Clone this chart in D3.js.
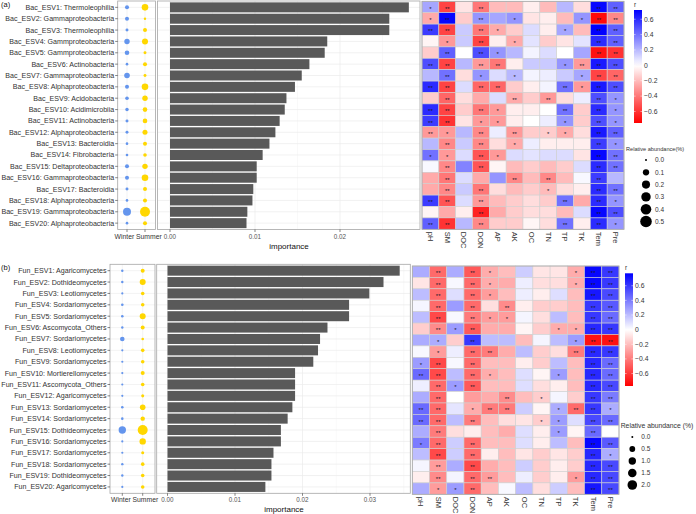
<!DOCTYPE html>
<html>
<head>
<meta charset="utf-8">
<script src="https://cdn.jsdelivr.net/npm/d3@7"></script>
<style>
  body { margin: 0; background: #fff; }
  text { font-family: "Liberation Sans", Arial, Helvetica, sans-serif; }
</style>
</head>
<body>
<svg id="chart" width="696" height="514"></svg>
<script>
// environmental factors (heatmap columns)
const factors = ["pH", "SM", "DOC", "DON", "AP", "AK", "OC", "TN", "TP", "TK", "Tem", "Pre"];
const seasons = ["Winter", "Summer"];

// ---- panel (a): bacteria
const bacLabels = ["Bac_ESV1: Thermoleophilia", "Bac_ESV2: Gammaproteobacteria", "Bac_ESV3: Thermoleophilia",
  "Bac_ESV4: Gammproteobacteria", "Bac_ESV5: Gammproteobacteria", "Bac_ESV6: Actinobacteria",
  "Bac_ESV7: Gammaproteobacteria", "Bac_ESV8: Alphaproteobacteria", "Bac_ESV9: Acidobacteria",
  "Bac_ESV10: Acidimicrobiia", "Bac_ESV11: Actinobacteria", "Bac_ESV12: Alphaproteobacteria",
  "Bac_ESV13: Bacteroidia", "Bac_ESV14: Fibrobacteria", "Bac_ESV15: Deltaproteobacteria",
  "Bac_ESV16: Gammaproteobacteria", "Bac_ESV17: Bacteroidia", "Bac_ESV18: Alphaproteobacteria",
  "Bac_ESV19: Gammaproteobacteria", "Bac_ESV20: Alphaproteobacteria"];
const bacImportance = [0.0281, 0.0258, 0.0258, 0.0185, 0.0182, 0.0164, 0.0155, 0.0147, 0.0137, 0.0135,
  0.0129, 0.0124, 0.0117, 0.0109, 0.0102, 0.0102, 0.0098, 0.0097, 0.0091, 0.0090];
const bacWinter = [0.022, 0.022, 0.005, 0.063, 0.037, 0.002, 0.070, 0.022, 0.014, 0.011,
  0.005, 0.005, 0.002, 0.002, 0.022, 0.022, 0.005, 0.002, 0.195, 0.002];
const bacSummer = [0.115, 0.001, 0.022, 0.087, 0.005, 0.022, 0.005, 0.115, 0.063, 0.037,
  0.037, 0.049, 0.022, 0.014, 0.063, 0.115, 0.022, 0.022, 0.347, 0.022];
const bacR = [
  [0.25, -0.55, -0.08, -0.4, -0.2, -0.2, -0.05, -0.2, 0.2, -0.1, 0.7, 0.45],
  [-0.25, 0.7, -0.15, 0.3, 0.25, 0.3, -0.08, -0.05, -0.2, 0.3, -0.72, -0.35],
  [0.55, -0.55, 0.15, -0.4, -0.25, -0.15, 0.1, -0.05, 0.25, -0.2, 0.72, 0.45],
  [-0.03, -0.3, 0.15, -0.55, -0.05, -0.25, 0.08, -0.15, -0.08, 0.08, 0.6, 0.45],
  [-0.15, 0.45, 0, 0.5, 0.3, 0.2, 0.03, 0.1, 0, 0.25, -0.7, -0.6],
  [0.5, -0.55, 0.2, -0.3, -0.4, -0.05, 0.15, 0.15, 0.3, -0.3, 0.65, 0.5],
  [0.2, 0.4, -0.1, 0.3, 0.1, 0.2, 0.03, 0.05, 0.15, 0.25, -0.55, -0.45],
  [0.6, -0.55, 0.1, -0.45, -0.45, -0.15, -0.05, 0.03, 0.4, -0.3, 0.65, 0.5],
  [-0.15, -0.45, -0.1, -0.25, 0.1, -0.25, -0.15, -0.3, -0.1, 0.05, 0.5, 0.3],
  [0.6, -0.55, -0.15, -0.4, -0.3, -0.05, -0.05, 0, 0.4, -0.15, 0.6, 0.3],
  [0.55, -0.6, -0.08, -0.3, -0.3, -0.05, 0, 0.05, 0.3, -0.15, 0.5, 0.3],
  [-0.3, -0.3, 0.2, -0.35, 0.05, -0.3, -0.15, -0.15, -0.25, -0.1, 0.65, 0.45],
  [0.2, -0.35, 0.15, -0.35, -0.1, -0.25, 0.05, -0.05, -0.05, -0.05, 0.55, 0.3],
  [0.4, -0.3, 0.1, -0.5, -0.3, 0.1, 0.08, 0.1, 0.1, -0.08, 0.7, 0.4],
  [0.02, -0.35, 0.35, -0.5, -0.03, -0.2, -0.15, -0.2, -0.15, 0.1, 0.6, 0.4],
  [-0.25, -0.4, 0.1, -0.25, 0.3, -0.35, -0.2, -0.35, -0.2, 0.02, 0.55, 0.2],
  [-0.25, -0.35, 0.15, -0.4, -0.1, -0.2, -0.15, -0.2, -0.1, -0.05, 0.6, 0.4],
  [0.55, -0.5, 0.1, -0.3, -0.2, -0.15, -0.1, -0.15, 0.4, -0.25, 0.6, 0.3],
  [-0.03, -0.25, -0.05, -0.65, -0.25, -0.15, -0.1, -0.1, -0.2, 0.1, 0.7, 0.5],
  [0.45, -0.6, 0.2, -0.35, -0.15, -0.15, -0.03, -0.1, 0.4, -0.05, 0.6, 0.3]
];
// 0 = none, 1 = *, 2 = **
const bacSig = ["120200000022", "120201000122", "220210001022", "010201000022", "020210000022",
  "220220001222", "020101000122", "220220002122", "020002020021", "220210002021",
  "220110001021", "210202011022", "020201000021", "110210000022", "020200000022",
  "020002020020", "020200010022", "220200002021", "000200000022", "220200002021"];

// ---- panel (b): fungi
const funLabels = ["Fun_ESV1: Agaricomycetes", "Fun_ESV2: Dothideomycetes", "Fun_ESV3: Leotiomycetes",
  "Fun_ESV4: Sordariomycetes", "Fun_ESV5: Sordariomycetes", "Fun_ESV6: Ascomycota_Others",
  "Fun_ESV7: Sordariomycetes", "Fun_ESV8: Leotiomycetes", "Fun_ESV9: Sordariomycetes",
  "Fun_ESV10: Mortierellomycetes", "Fun_ESV11: Ascomycota_Others", "Fun_ESV12: Agaricomycetes",
  "Fun_ESV13: Sordariomycetes", "Fun_ESV14: Sordariomycetes", "Fun_ESV15: Dothideomycetes",
  "Fun_ESV16: Sordariomycetes", "Fun_ESV17: Sordariomycetes", "Fun_ESV18: Sordariomycetes",
  "Fun_ESV19: Dothideomycetes", "Fun_ESV20: Agaricomycetes"];
const funImportance = [0.0344, 0.0320, 0.0299, 0.0269, 0.0269, 0.0237, 0.0226, 0.0223, 0.0216, 0.0189,
  0.0189, 0.0189, 0.0185, 0.0178, 0.0168, 0.0168, 0.0157, 0.0154, 0.0154, 0.0145];
const funWinter = [0.006, 0.006, 0.001, 0.012, 0.012, 0.006, 0.234, 0.001, 0.001, 0.001,
  0.001, 0.001, 0.012, 0.012, 1.0, 0.001, 0.001, 0.006, 0.006, 0.001];
const funSummer = [0.138, 0.55, 0.088, 0.088, 0.55, 0.138, 0.012, 0.088, 0.088, 0.138,
  0.088, 0.035, 0.45, 0.2, 2.2, 0.67, 0.035, 0.088, 0.088, 0.088];
const funR = [
  [0.25, -0.45, 0.25, -0.5, -0.25, -0.2, 0.15, -0.08, -0.08, -0.25, 0.75, 0.6],
  [-0.08, -0.45, 0.02, -0.45, -0.25, -0.25, 0.05, -0.1, -0.1, -0.25, 0.75, 0.6],
  [0.2, -0.45, 0.1, -0.45, -0.3, -0.2, 0.05, -0.05, 0.1, -0.2, 0.7, 0.55],
  [0.03, -0.45, 0.3, -0.45, -0.1, -0.35, -0.05, -0.15, -0.15, -0.2, 0.6, 0.5],
  [0.2, -0.55, 0.02, -0.4, -0.3, -0.3, 0.03, -0.1, 0.2, -0.2, 0.6, 0.45],
  [-0.15, -0.35, 0.3, -0.5, -0.25, -0.25, -0.03, -0.15, -0.25, -0.25, 0.65, 0.6],
  [0.25, 0.25, -0.15, 0.6, 0.2, 0.2, -0.2, 0.03, 0.2, 0.3, -0.72, -0.72],
  [0.02, -0.3, 0.05, -0.45, -0.4, -0.25, 0.2, -0.15, -0.1, -0.4, 0.65, 0.6],
  [0.3, -0.55, 0.02, -0.45, -0.2, -0.2, -0.05, -0.15, 0.2, -0.2, 0.65, 0.45],
  [0.45, -0.55, 0.2, -0.45, -0.25, -0.2, 0.1, -0.03, 0.3, -0.2, 0.65, 0.45],
  [0.05, -0.45, 0.3, -0.5, -0.2, -0.2, 0.1, -0.1, -0.05, -0.2, 0.65, 0.55],
  [0.25, -0.45, 0, -0.3, -0.25, -0.35, -0.2, -0.15, 0.03, -0.15, 0.6, 0.4],
  [0.45, -0.45, 0.08, -0.25, -0.4, -0.4, 0.15, -0.03, 0.25, -0.45, 0.6, 0.25],
  [0.45, -0.45, 0.2, -0.4, -0.2, -0.1, -0.08, -0.15, 0.3, 0.1, 0.55, 0.45],
  [0.25, -0.4, -0.1, -0.05, -0.2, -0.25, 0.1, -0.05, 0.3, -0.03, 0.45, 0],
  [0.4, -0.45, 0.15, -0.45, -0.2, -0.2, 0.1, -0.05, 0.2, -0.2, 0.75, 0.5],
  [0.2, -0.55, 0.15, -0.45, -0.05, -0.2, -0.08, -0.15, -0.08, -0.15, 0.65, 0.25],
  [0.03, -0.3, 0.25, -0.55, -0.25, -0.2, 0.15, -0.15, -0.05, -0.15, 0.65, 0.55],
  [-0.05, -0.35, 0.03, -0.45, -0.3, -0.2, 0.05, -0.15, -0.05, -0.3, 0.65, 0.55],
  [0.25, -0.3, 0.3, -0.45, -0.2, 0.02, 0.2, -0.1, 0.15, -0.2, 0.7, 0.55]
];
const funSig = ["020210000122", "020210000122", "020210000022", "020202000022", "020211000022",
  "021200001122", "010200000122", "010220000222", "120200000022", "220210001022",
  "021200000022", "020002010022", "220122001221", "220200011022", "020000001020",
  "120200000022", "020200000021", "020200000022", "020220000122", "011200000022"];

const bacImpTicks = [0, 0.01, 0.02];
const funImpTicks = [0, 0.01, 0.02, 0.03];
const rTicks = [0.6, 0.4, 0.2, 0, -0.2, -0.4, -0.6];
const bacSizeTicks = [0, 0.1, 0.2, 0.3, 0.4, 0.5];
const funSizeTicks = [0, 0.5, 1.0, 1.5, 2.0];

const svg = d3.select("#chart");
const textCol = "#333";
const gridCol = "#ebebeb";
const borderCol = "#a6a6a6";

function fmtR(v) {
  if (v === 0) return "0";
  return (v < 0 ? "\u2212" : "") + Math.abs(v).toFixed(1);
}

function drawPanel(p) {
  const g = svg.append("g");
  const rows = d3.range(p.labels.length);

  // tag
  g.append("text").attr("x", 1).attr("y", p.tagY).attr("font-size", 7.5).attr("fill", "#111").text(p.tag);

  const y = d3.scaleBand().domain(rows).range([p.top, p.bottom]).padding(0.12);
  const yc = i => y(i) + y.bandwidth() / 2;

  // ---- dot panel
  const xs = d3.scalePoint().domain(seasons).range([p.winterX, p.summerX]);
  const size = d3.scaleSqrt().domain([0, p.sizeMax]).range(p.sizeRange);
  g.append("rect").attr("x", p.dotX0).attr("y", p.top).attr("width", p.dotX1 - p.dotX0)
    .attr("height", p.bottom - p.top).attr("fill", "#fff");
  g.selectAll(".hg").data(rows).join("line")
    .attr("x1", p.dotX0).attr("x2", p.dotX1).attr("y1", yc).attr("y2", yc)
    .attr("stroke", gridCol).attr("stroke-width", 0.6);
  g.selectAll(".vg").data(seasons).join("line")
    .attr("x1", d => xs(d)).attr("x2", d => xs(d)).attr("y1", p.top).attr("y2", p.bottom)
    .attr("stroke", gridCol).attr("stroke-width", 0.6);
  const dots = [];
  rows.forEach(i => {
    dots.push({ s: "Winter", i, v: p.winter[i] });
    dots.push({ s: "Summer", i, v: p.summer[i] });
  });
  g.selectAll(".dot").data(dots).join("circle")
    .attr("cx", d => xs(d.s)).attr("cy", d => yc(d.i)).attr("r", d => size(d.v))
    .attr("fill", d => d.s === "Winter" ? "#6495ED" : "#FFD700");
  g.append("rect").attr("x", p.dotX0).attr("y", p.top).attr("width", p.dotX1 - p.dotX0)
    .attr("height", p.bottom - p.top).attr("fill", "none").attr("stroke", borderCol).attr("stroke-width", 0.8);

  // row labels + ticks
  g.selectAll(".lab").data(rows).join("text")
    .attr("x", p.dotX0 - 3.5).attr("y", d => yc(d) + 2.5)
    .attr("text-anchor", "end").attr("font-size", 7.1).attr("fill", textCol)
    .text(d => p.labels[d]);
  g.selectAll(".ytk").data(rows).join("line")
    .attr("x1", p.dotX0 - 2.5).attr("x2", p.dotX0).attr("y1", yc).attr("y2", yc)
    .attr("stroke", "#333").attr("stroke-width", 0.6);

  // season labels
  const mid = (p.winterX + p.summerX) / 2;
  g.append("text").attr("x", mid - 1.8).attr("y", p.bottom + 9).attr("text-anchor", "end")
    .attr("font-size", 6.8).attr("fill", textCol).text("Winter");
  g.append("text").attr("x", mid).attr("y", p.bottom + 9).attr("text-anchor", "start")
    .attr("font-size", 6.8).attr("fill", textCol).text("Summer");
  g.selectAll(".stk").data(seasons).join("line")
    .attr("x1", d => xs(d)).attr("x2", d => xs(d)).attr("y1", p.bottom).attr("y2", p.bottom + 2.5)
    .attr("stroke", "#333").attr("stroke-width", 0.6);

  // ---- bar panel
  const x = d3.scaleLinear().domain([0, 0.01]).range([p.barZero, p.barZero + p.barUnit]);
  const bx0 = p.barX0, bx1 = p.heatX0 - 2;
  g.append("rect").attr("x", bx0).attr("y", p.top).attr("width", bx1 - bx0)
    .attr("height", p.bottom - p.top).attr("fill", "#fff");
  const minor = p.impTicks.map(t => t + 0.005).filter(t => x(t) < bx1);
  g.selectAll(".mg").data(minor).join("line")
    .attr("x1", x).attr("x2", x).attr("y1", p.top).attr("y2", p.bottom)
    .attr("stroke", "#f3f3f3").attr("stroke-width", 0.5);
  g.selectAll(".xg").data(p.impTicks).join("line")
    .attr("x1", x).attr("x2", x).attr("y1", p.top).attr("y2", p.bottom)
    .attr("stroke", gridCol).attr("stroke-width", 0.7);
  g.selectAll(".bg").data(rows).join("line")
    .attr("x1", bx0).attr("x2", bx1).attr("y1", yc).attr("y2", yc)
    .attr("stroke", gridCol).attr("stroke-width", 0.7);
  g.selectAll(".bar").data(rows).join("rect")
    .attr("x", x(0)).attr("y", d => y(d))
    .attr("width", d => x(p.imp[d]) - x(0)).attr("height", y.bandwidth())
    .attr("fill", "#595959");
  g.append("rect").attr("x", bx0).attr("y", p.top).attr("width", bx1 - bx0)
    .attr("height", p.bottom - p.top).attr("fill", "none").attr("stroke", borderCol).attr("stroke-width", 0.8);
  g.selectAll(".xt").data(p.impTicks).join("text")
    .attr("x", x).attr("y", p.bottom + 9).attr("text-anchor", "middle")
    .attr("font-size", 6.3).attr("fill", "#555").text(d => d3.format(".2f")(d));
  g.selectAll(".xtk").data(p.impTicks).join("line")
    .attr("x1", x).attr("x2", x).attr("y1", p.bottom).attr("y2", p.bottom + 2.5)
    .attr("stroke", "#333").attr("stroke-width", 0.6);
  g.append("text").attr("x", p.titleX).attr("y", p.bottom + 19)
    .attr("text-anchor", "middle").attr("font-size", 8).attr("fill", "#111").text("importance");

  // ---- heatmap
  const hx = d3.scaleBand().domain(factors).range([p.heatX0, p.heatX1]);
  const hy = d3.scaleBand().domain(rows).range([p.heatTop, p.heatBottom]);
  const col = d3.scaleLinear().domain([p.rDomain[0], 0, p.rDomain[1]])
    .range(["#ff0000", "#ffffff", "#0000ff"]).interpolate(d3.interpolateRgb);
  const cells = [];
  rows.forEach(i => factors.forEach((f, j) => cells.push({ i, f, v: p.r[i][j], s: +p.sig[i][j] })));
  g.selectAll(".cell").data(cells).join("rect")
    .attr("x", d => hx(d.f)).attr("y", d => hy(d.i))
    .attr("width", hx.bandwidth()).attr("height", hy.bandwidth())
    .attr("fill", d => col(d.v)).attr("stroke", "#d0d0d0").attr("stroke-width", 0.6);
  g.selectAll(".sig").data(cells.filter(d => d.s > 0)).join("text")
    .attr("x", d => hx(d.f) + hx.bandwidth() / 2)
    .attr("y", d => hy(d.i) + hy.bandwidth() / 2 + 3.6)
    .attr("text-anchor", "middle").attr("font-size", 6).attr("fill", "#1a1a2a")
    .text(d => d.s === 2 ? "**" : "*");
  g.append("rect").attr("x", p.heatX0).attr("y", p.heatTop).attr("width", p.heatX1 - p.heatX0)
    .attr("height", p.heatBottom - p.heatTop).attr("fill", "none").attr("stroke", borderCol).attr("stroke-width", 0.8);
  g.selectAll(".fl").data(factors).join("text")
    .attr("transform", d => `translate(${hx(d) + hx.bandwidth() / 2 - 2.6},${p.heatBottom + 2.5}) rotate(90)`)
    .attr("font-size", 7.5).attr("fill", textCol).text(d => d);

  // ---- colour legend
  const ly = d3.scaleLinear().domain(p.rDomain).range([p.legBottom, p.legTop]);
  const gradId = "grad" + p.tag.replace(/\W/g, "");
  const grad = svg.append("defs").append("linearGradient").attr("id", gradId)
    .attr("x1", 0).attr("x2", 0).attr("y1", 1).attr("y2", 0);
  d3.range(0, 1.0001, 0.05).forEach(t => {
    const v = p.rDomain[0] + t * (p.rDomain[1] - p.rDomain[0]);
    grad.append("stop").attr("offset", t).attr("stop-color", col(v));
  });
  g.append("text").attr("x", p.legX).attr("y", p.legTop - 3).attr("font-size", 6.5).attr("fill", textCol).text("r");
  g.append("rect").attr("x", p.legX).attr("y", p.legTop).attr("width", 8)
    .attr("height", p.legBottom - p.legTop).attr("fill", `url(#${gradId})`);
  g.selectAll(".ltk").data(rTicks).join("line")
    .attr("x1", p.legX).attr("x2", p.legX + 1.6).attr("y1", ly).attr("y2", ly)
    .attr("stroke", "#fff").attr("stroke-width", 0.5);
  g.selectAll(".ltk2").data(rTicks).join("line")
    .attr("x1", p.legX + 6.4).attr("x2", p.legX + 8).attr("y1", ly).attr("y2", ly)
    .attr("stroke", "#fff").attr("stroke-width", 0.5);
  g.selectAll(".ll").data(rTicks).join("text")
    .attr("x", p.legX + 10).attr("y", d => ly(d) + 2.4)
    .attr("font-size", 6.8).attr("fill", textCol).text(fmtR);

  // ---- size legend
  g.append("text").attr("x", p.sizeTitleX).attr("y", p.sizeTitleY)
    .attr("font-size", p.sizeTitleFont).attr("fill", textCol).text(p.sizeTitle);
  g.selectAll(".sz").data(p.sizeTicks).join("circle")
    .attr("cx", p.sizeX).attr("cy", (d, k) => p.sizeY0 + k * p.sizeStep)
    .attr("r", d => size(d)).attr("fill", "#000");
  g.selectAll(".szl").data(p.sizeTicks).join("text")
    .attr("x", p.sizeX + 9).attr("y", (d, k) => p.sizeY0 + k * p.sizeStep + 2.3)
    .attr("font-size", 6.5).attr("fill", textCol).text(d => d.toFixed(1));
}

drawPanel({
  tag: "(a)", tagY: 6.5, labels: bacLabels, imp: bacImportance, winter: bacWinter, summer: bacSummer,
  r: bacR, sig: bacSig, impTicks: bacImpTicks,
  top: 1, bottom: 229.5, dotX0: 117.7, dotX1: 155.5, winterX: 127, summerX: 145,
  barX0: 157.5, barZero: 170, barUnit: 85, titleX: 289,
  heatX0: 422, heatX1: 624, heatTop: 1.3, heatBottom: 229.3,
  rDomain: [-0.75, 0.72], legX: 634, legTop: 10, legBottom: 123,
  sizeMax: 0.5, sizeRange: [1, 5.8], sizeTicks: bacSizeTicks,
  sizeTitle: "Relative abundance(%)", sizeTitleX: 626, sizeTitleY: 151, sizeTitleFont: 5.6,
  sizeX: 646, sizeY0: 160, sizeStep: 12.3
});

drawPanel({
  tag: "(b)", tagY: 270, labels: funLabels, imp: funImportance, winter: funWinter, summer: funSummer,
  r: funR, sig: funSig, impTicks: funImpTicks,
  top: 264.3, bottom: 493.3, dotX0: 110, dotX1: 155, winterX: 122.3, summerX: 142.7,
  barX0: 156.7, barZero: 167.5, barUnit: 67.5, titleX: 284,
  heatX0: 412.3, heatX1: 619, heatTop: 266, heatBottom: 494.3,
  rDomain: [-0.77, 0.77], legX: 625, legTop: 273.3, legBottom: 386,
  sizeMax: 2, sizeRange: [1, 4.8], sizeTicks: funSizeTicks,
  sizeTitle: "Relative abundance (%)", sizeTitleX: 620.7, sizeTitleY: 428, sizeTitleFont: 6.8,
  sizeX: 632.3, sizeY0: 437, sizeStep: 12
});
</script>
</body>
</html>
